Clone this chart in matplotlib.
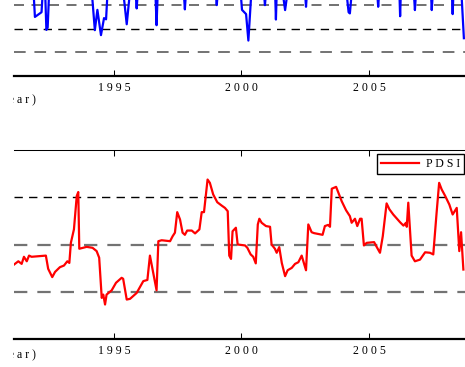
import matplotlib
matplotlib.use("Agg")
import matplotlib.pyplot as plt
from matplotlib.transforms import Bbox

# Drought index (top panel, blue) - years and values
spi_years = [1991.08, 1991.84, 1991.90, 1992.16, 1992.22, 1992.30, 1992.35, 1992.40, 1992.47,
             1993.20, 1994.12, 1994.25, 1994.35, 1994.49, 1994.61, 1994.69, 1994.76,
             1995.35, 1995.50, 1995.63, 1995.85, 1995.89, 1995.93, 1996.62, 1996.67, 1996.72,
             1997.74, 1997.78, 1997.82, 1999.00, 1999.03, 1999.06, 1999.97, 2000.02, 2000.18,
             2000.27, 2000.39, 2000.89, 2000.92, 2000.95, 2001.32, 2001.35, 2001.38, 2001.62,
             2001.71, 2001.80, 2002.50, 2002.53, 2002.56, 2004.12, 2004.20, 2004.25, 2004.32,
             2005.33, 2005.36, 2005.39, 2006.19, 2006.22, 2006.25, 2006.76, 2006.80, 2006.84,
             2007.43, 2007.46, 2007.50, 2008.25, 2008.28, 2008.31, 2008.62, 2008.72]
spi_values = [0.9, 0.7, -0.50, -0.30, 0.8, 0.6, -1.05, -0.95, 0.9,
              1.2, 0.7, -1.06, -0.20, -1.27, -0.55, -0.60, 0.8,
              0.7, -0.81, 0.6, 0.5, -0.14, 0.5, 0.7, -0.85, 0.7,
              0.5, -0.18, 0.5, 0.4, 0.0, 0.4, 0.5, -0.20, -0.38,
              -1.50, 0.6, 0.4, 0.0, 0.4, 0.5, -0.61, 0.5, 0.5,
              -0.21, 0.5, 0.4, -0.07, 0.4, 0.5, -0.30, -0.35, 0.5,
              0.4, -0.07, 0.4, 0.6, -0.47, 0.6, 0.5, -0.21, 0.5,
              0.5, -0.21, 0.5, 0.5, -0.38, 0.5, 0.6, -1.40]

# PDSI (bottom panel, red)
pdsi_years = [1991.08, 1991.25, 1991.38, 1991.47, 1991.58, 1991.67, 1991.77, 1992.33, 1992.42,
              1992.58, 1992.69, 1992.88, 1993.04, 1993.17, 1993.25, 1993.31, 1993.43, 1993.54,
              1993.60, 1993.64, 1993.93, 1994.16, 1994.32, 1994.42, 1994.52, 1994.58, 1994.65,
              1994.71, 1994.91, 1995.08, 1995.30, 1995.36, 1995.50, 1995.63, 1995.89, 1996.15,
              1996.31, 1996.41, 1996.67, 1996.74, 1996.87, 1997.20, 1997.30, 1997.39, 1997.48,
              1997.59, 1997.69, 1997.78, 1997.87, 1998.05, 1998.18, 1998.35, 1998.44, 1998.53,
              1998.67, 1998.76, 1998.89, 1999.05, 1999.22, 1999.35, 1999.46, 1999.52, 1999.59,
              1999.65, 1999.78, 1999.85, 2000.14, 2000.23, 2000.36, 2000.46, 2000.56, 2000.64,
              2000.70, 2000.79, 2000.96, 2001.12, 2001.18, 2001.31, 2001.38, 2001.48, 2001.58,
              2001.71, 2001.81, 2001.97, 2002.10, 2002.23, 2002.36, 2002.53, 2002.62, 2002.75,
              2002.85, 2003.18, 2003.27, 2003.40, 2003.47, 2003.54, 2003.71, 2003.80, 2003.93,
              2004.10, 2004.25, 2004.32, 2004.45, 2004.54, 2004.65, 2004.71, 2004.80, 2004.91,
              2005.20, 2005.30, 2005.43, 2005.54, 2005.69, 2005.80, 2005.95, 2006.22, 2006.35,
              2006.45, 2006.48, 2006.54, 2006.67, 2006.80, 2007.00, 2007.20, 2007.39, 2007.52,
              2007.65, 2007.75, 2007.85, 2007.98, 2008.15, 2008.28, 2008.44, 2008.54, 2008.61,
              2008.70]
pdsi_values = [-0.85, -0.71, -0.82, -0.52, -0.71, -0.47, -0.52, -0.47, -1.03,
               -1.38, -1.16, -0.96, -0.89, -0.71, -0.78, 0.07, 0.64, 2.05,
               2.22, -0.18, -0.10, -0.14, -0.28, -0.56, -2.26, -2.12, -2.54,
               -2.12, -1.94, -1.62, -1.41, -1.45, -2.33, -2.30, -2.05, -1.55,
               -1.50, -0.47, -1.94, 0.14, 0.18, 0.14, 0.35, 0.50, 1.37,
               1.06, 0.50, 0.41, 0.59, 0.59, 0.47, 0.64, 1.37, 1.37,
               2.75, 2.61, 2.12, 1.79, 1.65, 1.55, 1.41, -0.47, -0.61,
               0.56, 0.71, 0.00, -0.04, -0.14, -0.42, -0.52, -0.80, 0.85,
               1.09, 0.92, 0.78, 0.75, 0.00, -0.18, -0.35, -0.11, -0.78,
               -1.34, -1.09, -0.99, -0.82, -0.75, -0.47, -1.09, 0.85, 0.52,
               0.48, 0.41, 0.78, 0.83, 0.75, 2.36, 2.44, 2.19, 1.83,
               1.45, 1.20, 0.92, 1.09, 0.78, 1.09, 1.09, -0.04, 0.07,
               0.10, -0.10, -0.35, 0.35, 1.74, 1.49, 1.27, 0.94, 0.80,
               0.92, 0.75, 1.77, -0.47, -0.71, -0.64, -0.33, -0.35, -0.42,
               1.34, 2.61, 2.33, 2.07, 1.69, 1.27, 1.55, -0.28, 0.52,
               -1.06]

tick_years = [1995, 2000, 2005]
tick_labels = ["1 9 9 5", "2 0 0 0", "2 0 0 5"]
spi_levels = [1, 0, -1, -2]
pdsi_levels = [2, 0, -2]

serif = ["Liberation Serif", "DejaVu Serif"]
plt.rcParams["font.family"] = serif

W, H = 465, 367
fig = plt.figure(figsize=(W / 100, H / 100), dpi=100)

left = 14 / W
width = (470 - 14) / W
xlim = (1991.08, 2008.96)


def style_axes(ax):
    ax.set_xlim(*xlim)
    ax.set_xticks(tick_years)
    ax.set_xticklabels(tick_labels, fontsize=8.5)
    ax.set_yticks([])
    ax.spines["left"].set_visible(False)
    ax.spines["right"].set_visible(False)
    ax.spines["top"].set_linewidth(0.75)
    ax.spines["bottom"].set_linewidth(1.6)
    ax.tick_params(axis="x", direction="in", top=True, bottom=True, length=4,
                   width=0.75, pad=4)


# Top panel (mostly cropped above the image)
ax1 = fig.add_axes([left, (H - 76) / H, width, 189 / H])
for lev, col, lw in zip(spi_levels, ["0.3", "0.35", "black", "0.45"], [1.2, 1.2, 1.0, 1.4]):
    ax1.axhline(lev, color=col, linestyle=(0, (6, 4.5)), linewidth=lw, zorder=1)
ax1.plot(spi_years, spi_values, color="blue", linewidth=1.6, zorder=2)
ax1.set_ylim(-3, 5)
style_axes(ax1)

# Bottom panel: PDSI
ax2 = fig.add_axes([left, (H - 339) / H, width, 189 / H])
for lev, col, lw in zip(pdsi_levels, ["black", "0.45", "0.45"], [1.0, 1.6, 1.6]):
    ax2.axhline(lev, color=col, linestyle=(0, (6, 4.5)), linewidth=lw, zorder=1)
ax2.plot(pdsi_years, pdsi_values, color="red", linewidth=1.6, label="P D S I", zorder=2)
ax2.set_ylim(-4, 4)
style_axes(ax2)

leg = ax2.legend(loc="upper right", bbox_to_anchor=(464 / W, (H - 154) / H),
                 bbox_transform=fig.transFigure, fontsize=8.5, fancybox=False,
                 framealpha=1, edgecolor="black", borderpad=0.35, borderaxespad=0,
                 handlelength=3.2, handletextpad=0.6)
leg.get_frame().set_linewidth(1.0)

# x labels, cut at the left edge like in the reference
clip = Bbox.from_extents(13, 0, W, H)
for y_px in (100, 355):
    t = fig.text(36 / W, (H - y_px) / H, "( y e a r )", ha="right", va="center",
                 fontsize=8.5)
    t.set_clip_box(clip)
    t.set_clip_on(True)

fig.savefig("out.png", dpi=100)
